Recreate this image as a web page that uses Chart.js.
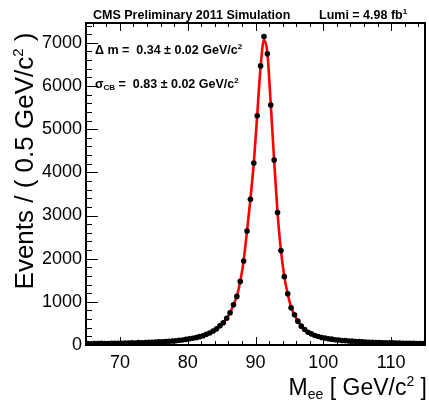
<!DOCTYPE html>
<html>
<head>
<meta charset="utf-8">
<script src="https://cdn.jsdelivr.net/npm/chart.js@4.4.1/dist/chart.umd.min.js"></script>
<style>
  html, body { margin: 0; padding: 0; background: #fff; }
  #wrap { width: 429px; height: 400px; }
</style>
</head>
<body>
<div id="wrap"><canvas id="c" width="429" height="400"></canvas></div>
<script>
// Di-electron invariant mass, 0.5 GeV/c^2 bins from 65 to 115
const massBins = [
  65.25, 65.75, 66.25, 66.75, 67.25, 67.75, 68.25, 68.75, 69.25, 69.75,
  70.25, 70.75, 71.25, 71.75, 72.25, 72.75, 73.25, 73.75, 74.25, 74.75,
  75.25, 75.75, 76.25, 76.75, 77.25, 77.75, 78.25, 78.75, 79.25, 79.75,
  80.25, 80.75, 81.25, 81.75, 82.25, 82.75, 83.25, 83.75, 84.25, 84.75,
  85.25, 85.75, 86.25, 86.75, 87.25, 87.75, 88.25, 88.75, 89.25, 89.75,
  90.25, 90.75, 91.25, 91.75, 92.25, 92.75, 93.25, 93.75, 94.25, 94.75,
  95.25, 95.75, 96.25, 96.75, 97.25, 97.75, 98.25, 98.75, 99.25, 99.75,
  100.25, 100.75, 101.25, 101.75, 102.25, 102.75, 103.25, 103.75, 104.25, 104.75,
  105.25, 105.75, 106.25, 106.75, 107.25, 107.75, 108.25, 108.75, 109.25, 109.75,
  110.25, 110.75, 111.25, 111.75, 112.25, 112.75, 113.25, 113.75, 114.25, 114.75
];

// Simulated events per bin
const eventCounts = [
  36, 30, 35, 31, 37, 34, 36, 40, 37, 42,
  41, 45, 44, 49, 48, 54, 53, 58, 60, 64,
  66, 72, 75, 82, 86, 94, 99, 110, 117, 131,
  144, 158, 171, 194, 214, 248, 278, 325, 374, 445,
  517, 619, 748, 933, 1126, 1474, 1946, 2642, 3378, 4214,
  5312, 6466, 7146, 6745, 5561, 4284, 3069, 2187, 1583, 1189,
  864, 701, 553, 437, 360, 297, 257, 220, 198, 174,
  162, 144, 136, 122, 117, 105, 102, 92, 90, 81,
  80, 72, 71, 65, 64, 58, 58, 53, 53, 49,
  49, 45, 45, 41, 41, 38, 38, 35, 36, 33
];

// Crystal Ball x Breit-Wigner fit evaluated at the bin centres
const fitCounts = [
  32, 33, 33, 34, 35, 36, 37, 38, 39, 40,
  42, 43, 45, 47, 49, 52, 54, 57, 60, 63,
  67, 71, 76, 81, 87, 93, 100, 109, 119, 130,
  143, 157, 173, 193, 217, 246, 281, 323, 376, 441,
  520, 620, 748, 930, 1135, 1470, 1950, 2640, 3380, 4220,
  5320, 6440, 7070, 6760, 5580, 4270, 3070, 2190, 1590, 1180,
  880, 695, 555, 440, 358, 298, 254, 221, 195, 175,
  159, 146, 134, 124, 115, 107, 100, 94, 88, 83,
  78, 74, 70, 66, 63, 60, 57, 54, 52, 50,
  48, 46, 44, 42, 40, 39, 37, 36, 35, 34
];

const xTickValues = [70, 80, 90, 100, 110];
const yTickValues = [0, 1000, 2000, 3000, 4000, 5000, 6000, 7000];

const FONT = '"Liberation Sans", Arial, Helvetica, sans-serif';

// Draws a run of text pieces; each piece may be raised/lowered and resized
function drawRich(ctx, parts, x, y, align) {
  let total = 0;
  parts.forEach(p => {
    ctx.font = (p.bold ? 'bold ' : '') + p.size + 'px ' + FONT;
    p.w = ctx.measureText(p.t).width;
    total += p.w;
  });
  let cx = align === 'right' ? x - total : (align === 'center' ? x - total / 2 : x);
  ctx.textAlign = 'left';
  ctx.textBaseline = 'alphabetic';
  parts.forEach(p => {
    ctx.font = (p.bold ? 'bold ' : '') + p.size + 'px ' + FONT;
    ctx.fillText(p.t, cx, y + (p.dy || 0));
    cx += p.w;
  });
}

// ROOT-style frame: box around the plot, ticks drawn inward on every axis
const rootFrame = {
  id: 'rootFrame',
  afterDatasetsDraw(chart) {
    const { ctx, chartArea: a, scales: { x, y } } = chart;
    ctx.save();
    ctx.strokeStyle = '#000';
    ctx.lineWidth = 1;
    ctx.beginPath();
    for (let v = 66; v <= 114; v += 2) {
      const px = Math.round(x.getPixelForValue(v)) + 0.5;
      const len = v % 10 === 0 ? 8 : 4;
      ctx.moveTo(px, a.bottom); ctx.lineTo(px, a.bottom - len);
      ctx.moveTo(px, a.top); ctx.lineTo(px, a.top + len);
    }
    for (let v = 200; v <= 7400; v += 200) {
      const py = Math.round(y.getPixelForValue(v)) + 0.5;
      const len = v % 1000 === 0 ? 12 : 6;
      ctx.moveTo(a.left, py); ctx.lineTo(a.left + len, py);
    }
    ctx.stroke();
    ctx.lineWidth = 2;
    ctx.strokeRect(a.left, a.top, a.right - a.left, a.bottom - a.top);
    ctx.restore();
  },
  afterDraw(chart) {
    const { ctx } = chart;
    ctx.save();
    ctx.fillStyle = '#000';
    // header
    drawRich(ctx, [{ t: 'CMS Preliminary 2011 Simulation', size: 12.5, bold: true }], 93, 19);
    drawRich(ctx, [
      { t: 'Lumi = 4.98 fb', size: 12.5, bold: true },
      { t: '1', size: 8, bold: true, dy: -5 }
    ], 319, 19);
    // fit results
    drawRich(ctx, [
      { t: '\u0394 m =  0.34 \u00b1 0.02 GeV/c', size: 12.5, bold: true },
      { t: '2', size: 8, bold: true, dy: -5 }
    ], 95, 54);
    drawRich(ctx, [
      { t: '\u03c3', size: 12.5, bold: true },
      { t: 'CB', size: 8, bold: true, dy: 2 },
      { t: ' =  0.83 \u00b1 0.02 GeV/c', size: 12.5, bold: true },
      { t: '2', size: 8, bold: true, dy: -5 }
    ], 95, 88);
    // x-axis title
    drawRich(ctx, [
      { t: 'M', size: 23 },
      { t: 'ee', size: 14, dy: 4 },
      { t: ' [ GeV/c', size: 23 },
      { t: '2', size: 14, dy: -9 },
      { t: ' ]', size: 23 }
    ], 427, 395, 'right');
    // y-axis title
    ctx.translate(33, 161);
    ctx.rotate(-Math.PI / 2);
    drawRich(ctx, [
      { t: 'Events / ( 0.5 GeV/c', size: 26 },
      { t: '2', size: 15, dy: -10 },
      { t: ' )', size: 26 }
    ], 0, 0, 'center');
    ctx.restore();
  }
};

new Chart(document.getElementById('c').getContext('2d'), {
  type: 'line',
  data: {
    datasets: [
      {
        label: 'Simulation',
        data: massBins.map((m, i) => ({ x: m, y: eventCounts[i] })),
        showLine: false,
        pointRadius: 2.8,
        pointBackgroundColor: '#000',
        pointBorderWidth: 0,
        order: 0
      },
      {
        label: 'Fit',
        data: massBins.map((m, i) => ({ x: m, y: fitCounts[i] })),
        borderColor: '#ff0000',
        borderWidth: 2.6,
        pointRadius: 0,
        cubicInterpolationMode: 'monotone',
        fill: false,
        order: 1
      }
    ]
  },
  options: {
    responsive: false,
    animation: false,
    devicePixelRatio: 1,
    layout: { padding: { top: 23, right: 1, left: 0, bottom: 0 } },
    plugins: { legend: { display: false }, tooltip: { enabled: false }, title: { display: false } },
    scales: {
      x: {
        type: 'linear',
        min: 65,
        max: 115,
        grid: { display: false, drawTicks: false },
        border: { display: false },
        ticks: { color: '#000', padding: 7, font: { family: FONT, size: 18 }, maxRotation: 0,
                 callback: v => String(v) },
        afterBuildTicks: s => { s.ticks = xTickValues.map(v => ({ value: v })); },
        afterFit: s => { s.height = 55; }
      },
      y: {
        type: 'linear',
        min: 0,
        max: 7460,
        grid: { display: false, drawTicks: false },
        border: { display: false },
        ticks: { color: '#000', padding: 4, font: { family: FONT, size: 18 },
                 callback: v => String(v) },
        afterBuildTicks: s => { s.ticks = yTickValues.map(v => ({ value: v })); },
        afterFit: s => { s.width = 86; }
      }
    }
  },
  plugins: [rootFrame]
});
</script>
</body>
</html>
